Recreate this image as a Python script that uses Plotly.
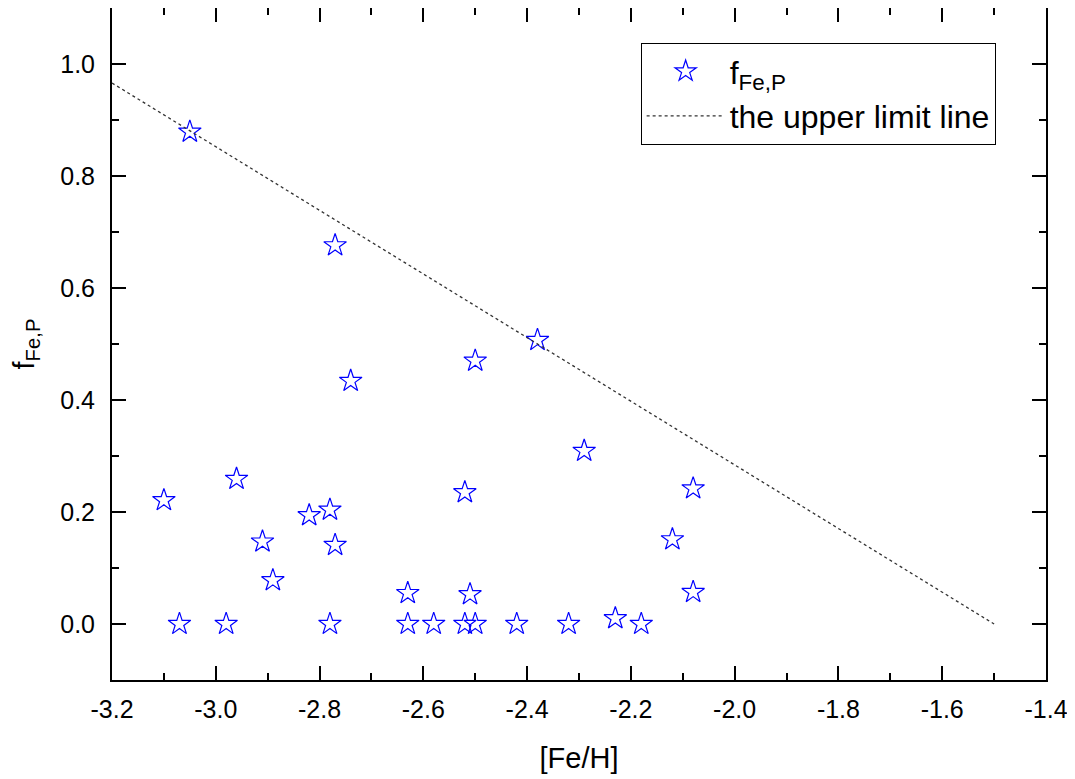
import plotly.graph_objects as go

fe_h = [-3.10, -3.07, -3.05, -2.98, -2.96, -2.91, -2.89, -2.82, -2.78, -2.78,
        -2.77, -2.77, -2.74, -2.63, -2.63, -2.58, -2.52, -2.52, -2.51, -2.50,
        -2.50, -2.42, -2.38, -2.32, -2.29, -2.23, -2.18, -2.12, -2.08, -2.08]
f_fe_p = [0.221, 0.0, 0.879, 0.0, 0.259, 0.147, 0.078, 0.194, 0.204, 0.0,
          0.141, 0.676, 0.434, 0.055, 0.0, 0.0, 0.235, 0.0, 0.053, 0.0,
          0.470, 0.0, 0.507, 0.0, 0.309, 0.010, 0.0, 0.151, 0.242, 0.057]

limit_x = [-3.2, -1.5]
limit_y = [0.966, 0.0]

x_ticks = [-3.2, -3.0, -2.8, -2.6, -2.4, -2.2, -2.0, -1.8, -1.6, -1.4]
x_labels = ["-3.2", "-3.0", "-2.8", "-2.6", "-2.4", "-2.2", "-2.0", "-1.8", "-1.6", "-1.4"]
y_ticks = [0.0, 0.2, 0.4, 0.6, 0.8, 1.0]
y_labels = ["0.0", "0.2", "0.4", "0.6", "0.8", "1.0"]

FONT = "Liberation Sans, Arial, sans-serif"

fig = go.Figure()
fig.add_trace(go.Scatter(
    x=fe_h, y=f_fe_p, mode="markers", name="f<sub>Fe,P</sub>",
    marker=dict(symbol="star-open", size=17, color="#0000ff",
                line=dict(color="#0000ff", width=1.2)),
))
fig.add_trace(go.Scatter(
    x=limit_x, y=limit_y, mode="lines", name="the upper limit line",
    line=dict(color="#333333", width=1.3, dash="dot"),
))

axis_common = dict(
    showline=True, linecolor="black", linewidth=2, mirror="allticks",
    ticks="inside", ticklen=14, tickwidth=2, tickcolor="black",
    showgrid=False, zeroline=False, automargin=False,
    tickfont=dict(family=FONT, size=25, color="black"),
)

fig.update_xaxes(
    range=[-3.2, -1.4], tickvals=x_ticks, ticktext=x_labels,
    minor=dict(ticks="inside", ticklen=7, tickwidth=2, dtick=0.1, tick0=-3.2,
               tickcolor="black", showgrid=False),
    title=dict(text="[Fe/H]", font=dict(family=FONT, size=29, color="black"), standoff=26),
    ticklabelstandoff=6,
    **axis_common,
)
fig.update_yaxes(
    range=[-0.1, 1.1], tickvals=y_ticks, ticktext=y_labels,
    minor=dict(ticks="inside", ticklen=7, tickwidth=2, dtick=0.1, tick0=0,
               tickcolor="black", showgrid=False),
    title=dict(text="f<sub>Fe,P</sub>", font=dict(family=FONT, size=29, color="black"), standoff=26),
    ticklabelstandoff=10,
    **axis_common,
)

fig.update_layout(
    width=1067, height=771,
    margin=dict(l=104, r=29, t=0, b=99, autoexpand=False),
    paper_bgcolor="white", plot_bgcolor="white",
    font=dict(family=FONT, color="black"),
    showlegend=True,
    legend=dict(
        x=0.566, y=0.948, xanchor="left", yanchor="top",
        bgcolor="white", bordercolor="black", borderwidth=1,
        font=dict(family=FONT, size=32, color="black"),
        itemwidth=78, tracegroupgap=0,
    ),
)

fig.write_html("out.html")
